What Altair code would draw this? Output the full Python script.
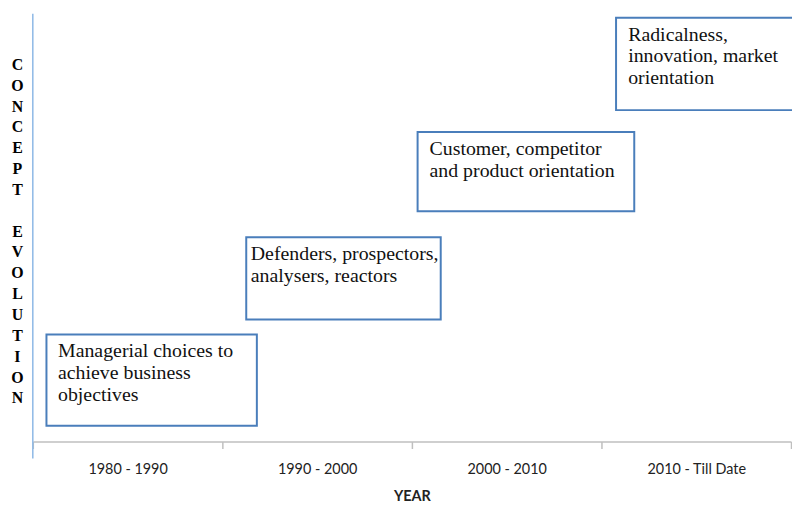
import altair as alt
import pandas as pd

# Periods along the x axis (one unit each)
periods = ["1980 - 1990", "1990 - 2000", "2000 - 2010", "2010 - Till Date"]

# Concept boxes (x in period units, y in axis units 0..431)
box_text = [
    "Managerial choices to\nachieve business\nobjectives",
    "Defenders, prospectors,\nanalysers, reactors",
    "Customer, competitor\nand product orientation",
    "Radicalness,\ninnovation, market\norientation",
]
box_x0 = [0.072, 1.126, 2.030, 3.077]
box_x1 = [1.182, 2.152, 3.173, 4.300]
box_top = [108, 206, 312, 427]
box_bottom = [16, 123, 232, 334]
text_x = [0.133, 1.150, 2.093, 3.141]

# vertical axis line extent
vline_x = [0]
vline_y0 = [-17]
vline_y1 = [431]

y_letters = list("CONCEPT") + ["\u200b"] + list("EVOLUTION")

boxes = pd.DataFrame({
    "label": box_text, "x0": box_x0, "x1": box_x1,
    "top": box_top, "bottom": box_bottom, "tx": text_x,
})
vline = pd.DataFrame({"x": vline_x, "y0": vline_y0, "y1": vline_y1})

xscale = alt.Scale(domain=[0, 4], nice=False, zero=False)
yscale = alt.Scale(domain=[0, 431], nice=False, zero=False)

label_arr = "[" + ",".join("'" + p + "'" for p in periods) + "]"

x_axis = alt.Axis(
    values=[0, 0.5, 1, 1.5, 2, 2.5, 3, 3.5, 4],
    labelExpr=f"datum.value % 1 == 0.5 ? {label_arr}[floor(datum.value)] : ''",
    tickOpacity=alt.condition("datum.value % 1 != 0", alt.value(0), alt.value(1)),
    grid=False,
    domainColor="#bfbfbf",
    domainWidth=1.5,
    tickColor="#bfbfbf",
    tickWidth=1.5,
    tickSize=7,
    labelFont="Lato",
    labelFontSize=14.5,
    labelColor="#222222",
    labelPadding=14,
    labelOverlap=False,
    labelFlush=False,
    title="YEAR",
    titleFont="Lato",
    titleFontSize=14.5,
    titleFontWeight="bold",
    titleColor="#222222",
    titleBaseline="alphabetic",
    titleY=59,
)

y_axis = alt.Axis(
    domain=False, ticks=False, labels=False, grid=False,
    title=y_letters,
    titleAngle=0,
    titleX=-16,
    titleY=56,
    titleAlign="center",
    titleBaseline="alphabetic",
    titleFont="Liberation Serif",
    titleFontSize=16,
    titleFontWeight="bold",
    titleLineHeight=21,
    titleColor="black",
)

rule = alt.Chart(vline).mark_rule(color="#8db8e6", strokeWidth=1.5).encode(
    x=alt.X("x:Q", scale=xscale, axis=x_axis),
    y=alt.Y("y0:Q", scale=yscale, axis=y_axis),
    y2="y1:Q",
)

rects = alt.Chart(boxes).mark_rect(
    fill="white", stroke="#4a7ebb", strokeWidth=2
).encode(
    x=alt.X("x0:Q", scale=xscale, axis=x_axis),
    x2="x1:Q",
    y=alt.Y("top:Q", scale=yscale, axis=y_axis),
    y2="bottom:Q",
)

texts = alt.Chart(boxes).mark_text(
    align="left", baseline="alphabetic", dy=23, lineBreak="\n",
    lineHeight=22, font="Liberation Serif", fontSize=20, color="#111111",
).encode(
    x=alt.X("tx:Q", scale=xscale, axis=x_axis),
    y=alt.Y("top:Q", scale=yscale, axis=y_axis),
    text="label:N",
)

chart = alt.layer(rule, rects, texts).properties(
    width=764,
    height=431,
    autosize=alt.AutoSizeParams(type="none"),
    padding={"left": 25, "top": 4, "right": 1, "bottom": 63},
).configure_view(stroke=None)

chart.save("out.html", embed_options={"renderer": "svg", "actions": False})
